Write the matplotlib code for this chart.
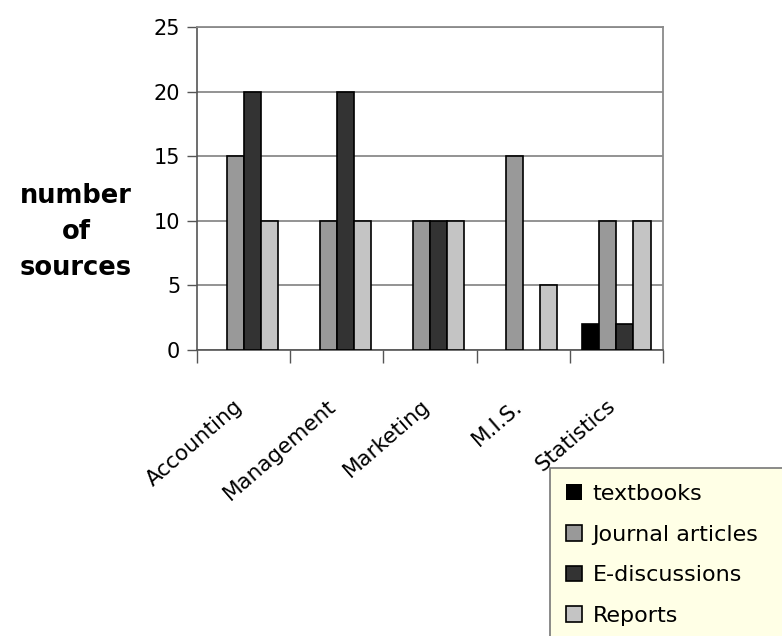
import matplotlib
matplotlib.use("Agg")
import matplotlib.pyplot as plt
import numpy as np

plt.rcParams["font.family"] = ["DejaVu Sans"]

CATEGORIES = ["Accounting", "Management", "Marketing", "M.I.S.", "Statistics"]
SERIES = ["textbooks", "Journal articles", "E-discussions", "Reports"]
TEXTBOOKS = [0, 0, 0, 0, 2]
JOURNAL = [15, 10, 10, 15, 10]
EDISC = [20, 20, 10, 0, 2]
REPORTS = [10, 10, 10, 5, 10]
COLORS = ["#000000", "#999999", "#333333", "#c4c4c4"]


def main():
    fig = plt.figure(figsize=(7.82, 6.36), dpi=100)
    ax = fig.add_axes([197 / 782, 1 - 350 / 636, 466 / 782, 323 / 636])

    x = np.arange(len(CATEGORIES))
    w = 0.183
    values = [TEXTBOOKS, JOURNAL, EDISC, REPORTS]
    for i, (vals, label, c) in enumerate(zip(values, SERIES, COLORS)):
        # empty bars get no outline
        edges = ["black" if v > 0 else "none" for v in vals]
        ax.bar(x + (i - 1.5) * w, vals, w, color=c, edgecolor=edges,
               linewidth=1.2, label=label, zorder=3)

    ax.set_xlim(-0.5, len(CATEGORIES) - 0.5)
    ax.set_ylim(0, 25)
    ax.set_yticks(np.arange(0, 26, 5))
    ax.tick_params(axis="y", labelsize=15, length=7, width=1, color="#555555", pad=5)
    ax.grid(axis="y", color="#8a8a8a", linewidth=1.3, zorder=0)

    # ticks mark the category boundaries, names hang under the groups
    ax.set_xticks(np.arange(-0.5, len(CATEGORIES), 1.0))
    ax.set_xticklabels([])
    ax.tick_params(axis="x", length=9, width=1, color="#555555")
    for xi, name in zip(x, CATEGORIES):
        ax.annotate(name, (xi, 0), xytext=(-7, -33), textcoords="offset points",
                    xycoords="data", rotation=41, ha="right", va="top",
                    rotation_mode="anchor", fontsize=15.5)

    for side in ["top", "right"]:
        ax.spines[side].set_color("#8a8a8a")
        ax.spines[side].set_linewidth(1.3)
    for side in ["left", "bottom"]:
        ax.spines[side].set_color("#555555")
        ax.spines[side].set_linewidth(1.2)

    fig.text(76 / 782, 1 - 232 / 636, "number\nof\nsources", ha="center",
             va="center", fontsize=18.5, fontweight="bold", linespacing=1.5)

    leg = fig.legend(loc="upper left", mode="expand",
                     bbox_to_anchor=(550 / 782, 0, 0.4, 1 - 468 / 636),
                     fontsize=16, handlelength=0.7, handleheight=0.7,
                     handletextpad=0.5, labelspacing=0.93, borderpad=0.72,
                     fancybox=False, facecolor="#ffffe6", edgecolor="#777777",
                     framealpha=1.0, borderaxespad=0)
    leg.get_frame().set_linewidth(1.2)

    fig.savefig("out.png", dpi=100)
    plt.close(fig)


if __name__ == "__main__":
    main()
